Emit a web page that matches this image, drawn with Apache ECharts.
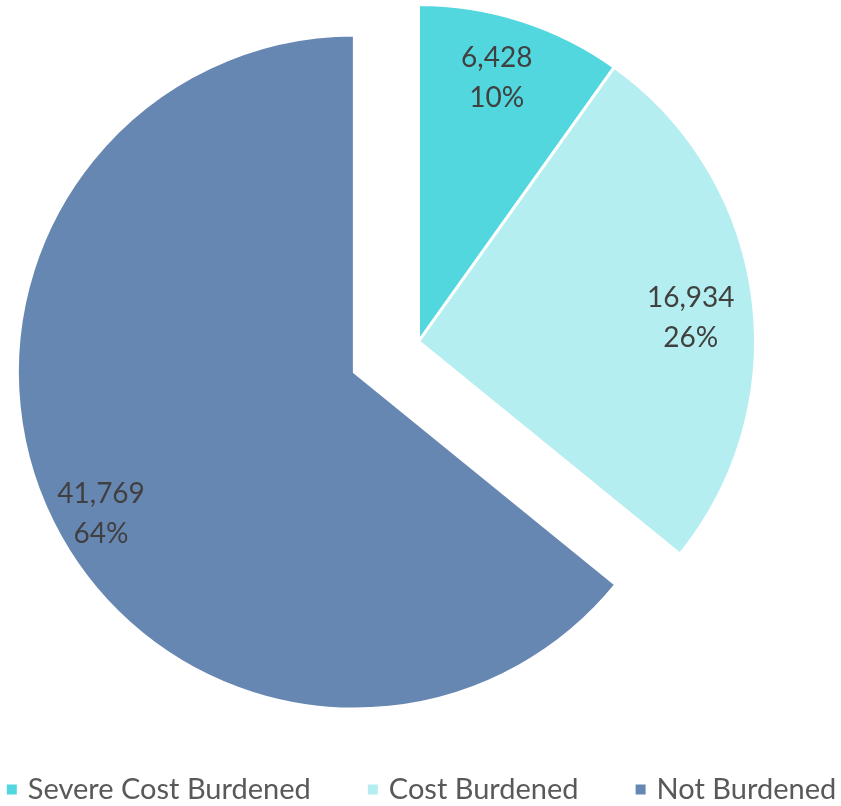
<!DOCTYPE html>
<html>
<head>
<meta charset="utf-8">
<script src="https://cdn.jsdelivr.net/npm/echarts@6/dist/echarts.min.js"></script>
<style>
  html, body { margin: 0; padding: 0; background: #ffffff; }
  #chart { width: 841px; height: 806px; }
</style>
</head>
<body>
<div id="chart"></div>
<script>
// ---- data ----
const categories = ['Severe Cost Burdened', 'Cost Burdened', 'Not Burdened'];
const values = [6428, 16934, 41769];
const explodedCategory = 'Not Burdened';

// ---- style ----
const palette = ['#53D7DF', '#B5EEF0', '#6787B3'];
// label nudges to mimic the original "best fit" placement
const labelPadRight = [16, 16, 0];
const labelPadLeft = [0, 0, 4];
const labelLeadHeight = [12, 28, 42];
const FONT = 'Lato, "Liberation Sans", sans-serif';
const CENTER = [418.5, 341.5];
const R = 337;
const OFFSET = 71;

const chart = echarts.init(document.getElementById('chart'), null, { renderer: 'canvas' });

const valueStyle = { fontFamily: FONT, fontSize: 28, lineHeight: 40, color: '#404040', align: 'center' };

const visibleData = categories.map((name, i) => ({
  name,
  value: values[i],
  selected: name === explodedCategory,
  itemStyle: { color: palette[i] }
}));

const labelData = categories.map((name, i) => ({
  name,
  value: values[i],
  selected: name === explodedCategory,
  label: {
    padding: [0, labelPadRight[i], 0, labelPadLeft[i]],
    rich: {
      g: { fontSize: 1, lineHeight: labelLeadHeight[i], align: 'center' },
      v: valueStyle
    }
  }
}));

const option = {
  backgroundColor: '#ffffff',
  animation: false,
  legend: {
    left: 'center',
    top: 775,
    padding: [0, 0, 0, 8],
    icon: 'rect',
    itemWidth: 12,
    itemHeight: 12,
    itemGap: 55,
    selectedMode: false,
    data: categories.map((name, i) => ({ name, itemStyle: { color: palette[i] } })),
    textStyle: {
      fontFamily: FONT,
      fontSize: 29,
      color: '#595959',
      lineHeight: 29,
      padding: [0, 0, 0, 5]
    }
  },
  series: [
    {
      type: 'pie',
      center: CENTER,
      radius: R,
      startAngle: 90,
      clockwise: true,
      selectedMode: 'single',
      selectedOffset: OFFSET,
      avoidLabelOverlap: false,
      itemStyle: { borderColor: '#ffffff', borderWidth: 3 },
      label: { show: false },
      labelLine: { show: false },
      emphasis: { disabled: true },
      data: visibleData
    },
    {
      type: 'pie',
      center: CENTER,
      radius: [R * 0.66, R],
      startAngle: 90,
      clockwise: true,
      selectedMode: 'single',
      selectedOffset: OFFSET,
      avoidLabelOverlap: false,
      silent: true,
      itemStyle: { color: 'rgba(0,0,0,0)', borderWidth: 0 },
      emphasis: { disabled: true },
      labelLine: { show: false },
      label: {
        show: true,
        position: 'inside',
        fontFamily: FONT,
        fontSize: 28,
        lineHeight: 40,
        color: '#404040',
        align: 'center',
        formatter: p => '{g| }\n{v|' + p.value.toLocaleString('en-US') + '}\n{v|' + Math.round(p.percent) + '%}'
      },
      data: labelData
    }
  ]
};

chart.setOption(option);
</script>
</body>
</html>
